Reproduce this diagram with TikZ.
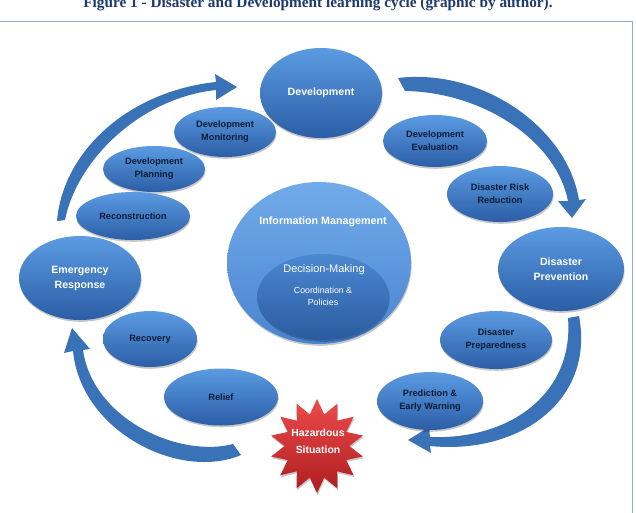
\documentclass[tikz,border=0pt]{standalone}
\usepackage{fontspec}
\setmainfont{Liberation Sans}
\newfontfamily\titlefont{Liberation Serif}
\usetikzlibrary{shapes.geometric,shadows}
\definecolor{blueT}{HTML}{5B9BE2}
\definecolor{blueB}{HTML}{2B5EA6}
\definecolor{navy}{HTML}{0E1C38}
\definecolor{arrowblue}{HTML}{3A72B8}
\definecolor{infoT}{HTML}{72ABEA}
\definecolor{infoB}{HTML}{4A84D0}
\definecolor{dmT}{HTML}{4C88D2}
\definecolor{dmB}{HTML}{2A5B9E}
\definecolor{redT}{HTML}{EC4B4B}
\definecolor{redB}{HTML}{AE1C20}
\definecolor{framecol}{HTML}{8EA9D0}
\definecolor{titlecol}{HTML}{1F3A6E}
\tikzset{
  blob/.style={ellipse, inner sep=0pt, align=center, draw=none,
    top color=blueT, bottom color=blueB,
    drop shadow={shadow xshift=0.6pt, shadow yshift=-1.8pt, opacity=0.22, fill=black}},
  stage/.style={blob, text=navy, font=\fontsize{9.2}{13}\selectfont\bfseries},
  mainstage/.style={blob, text=white, font=\fontsize{10.6}{15}\selectfont\bfseries},
  cyclearrow/.style={fill=arrowblue, draw=none},
  lbl/.style={inner sep=0pt, align=center, text=white}
}
\begin{document}
\begin{tikzpicture}[x=1pt,y=-1pt]
\useasboundingbox (0,0) rectangle (636,512);
\clip (0,0) rectangle (636,512);
\fill[white] (0,0) rectangle (636,512);

% frame and cut title
\draw[framecol, line width=0.9pt] (-5,21) -- (632,21) -- (632,520);
\node[anchor=base, inner sep=0pt, text=titlecol, font=\titlefont\bfseries\fontsize{15.3}{17}\selectfont] (title) at (318,7) {Figure 1 - Disaster and Development learning cycle (graphic by author).};

% cycle arrows
\fill[cyclearrow] (57,221) .. controls (63,150) and (130,91) .. (216,82)
  -- (215,74) -- (237,87) -- (216,100) -- (216,90)
  .. controls (140,98) and (77,160) .. (65,220) -- cycle;
\fill[cyclearrow] (398,78) .. controls (480,68) and (567,126) .. (579,200)
  -- (586,199) -- (572,218) -- (558,201) -- (568,201)
  .. controls (556,140) and (482,92) .. (405,91) -- cycle;
\fill[cyclearrow] (579,316) .. controls (595,400) and (520,455) .. (430,446)
  -- (431,453) -- (408,440) -- (429,427) -- (430,437)
  .. controls (512,440) and (574,392) .. (568,318) -- cycle;
\fill[cyclearrow] (241,455) .. controls (180,481) and (81,432) .. (73,351)
  -- (64,353) -- (72,328) -- (90,349) -- (83,350)
  .. controls (93,420) and (180,458) .. (233,444) -- cycle;

% centre
\node[blob, minimum width=184pt, minimum height=162pt, top color=infoT, bottom color=infoB] (info) at (319,263) {};
\node[lbl, font=\fontsize{10.7}{13}\selectfont\bfseries] (infotext) at (323,222) {Information Management};
\node[blob, minimum width=132pt, minimum height=86pt, top color=dmT, bottom color=dmB] (dm) at (323,297) {};
\node[lbl, font=\fontsize{11}{13}\selectfont] (dmtext) at (324,270) {Decision-Making};
\node[lbl, font=\fontsize{8.8}{12}\selectfont] (coord) at (323,296) {Coordination \&\\Policies};

% main stages
\node[mainstage, minimum width=122pt, minimum height=90pt] (dev) at (321,93) {Development};
\node[mainstage, minimum width=126pt, minimum height=84pt] (prev) at (561,269) {Disaster\\Prevention};
\node[mainstage, minimum width=122pt, minimum height=84pt] (emer) at (80,278) {Emergency\\Response};

% sub stages
\node[stage, minimum width=102pt, minimum height=50pt] (mon) at (225,132) {Development\\Monitoring};
\node[stage, minimum width=102pt, minimum height=46pt] (plan) at (154,169) {Development\\Planning};
\node[stage, minimum width=114pt, minimum height=48pt] (recon) at (133,216) {Reconstruction};
\node[stage, minimum width=94pt, minimum height=56pt] (recov) at (150,339) {Recovery};
\node[stage, minimum width=114pt, minimum height=57pt] (relief) at (221,397) {Relief};
\node[stage, minimum width=104pt, minimum height=52pt] (eval) at (435,141) {Development\\Evaluation};
\node[stage, minimum width=106pt, minimum height=56pt] (drr) at (500,194) {Disaster Risk\\Reduction};
\node[stage, minimum width=112pt, minimum height=58pt] (prep) at (496,340) {Disaster\\Preparedness};
\node[stage, minimum width=106pt, minimum height=58pt] (pred) at (430,401) {Prediction \&\\Early Warning};

% hazard star
\node[star, star points=14, star point ratio=1.45, minimum size=94pt, inner sep=0pt,
  top color=redT, bottom color=redB, draw=none,
  drop shadow={shadow xshift=0.6pt, shadow yshift=-1.8pt, opacity=0.22, fill=black}] (haz) at (317,446) {};
\node[lbl, font=\fontsize{10.4}{17}\selectfont\bfseries] (haztext) at (318,441) {Hazardous\\Situation};
\end{tikzpicture}
\end{document}
